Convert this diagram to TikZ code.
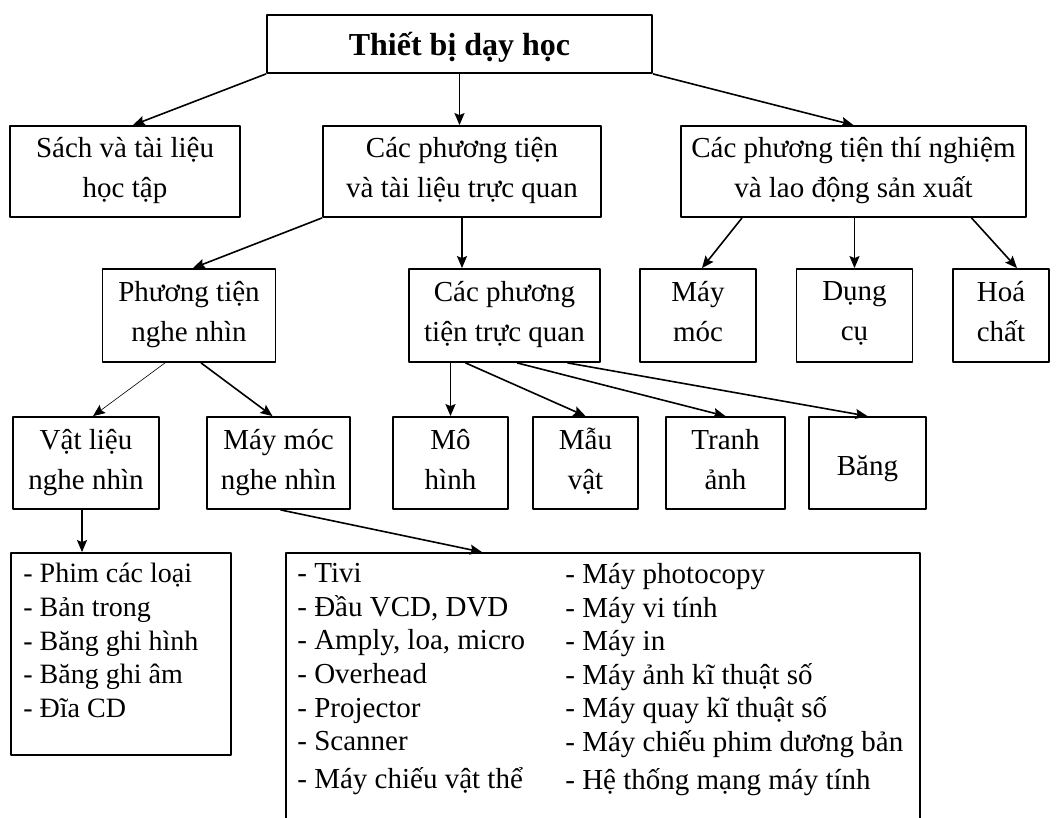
\documentclass[tikz,border=0pt]{standalone}
\usepackage{fontspec}
\setmainfont{Liberation Serif}
\usetikzlibrary{arrows.meta}
\tikzset{
	hop/.style={draw, line width=0.9pt, align=center, inner sep=2pt,
		font=\fontsize{14.5}{20}\selectfont,
		execute at begin node=\rule{0pt}{16pt},
		execute at end node=\rule[-4pt]{0pt}{4pt}},
	ds/.style={align=left, inner sep=0pt, anchor=north west,
		font=\fontsize{14}{16.8}\selectfont, execute at begin node=\strut},
	mui/.style={-{Stealth[length=6pt,width=5pt,inset=1pt]}, line width=0.8pt}
}
\begin{document}
\begin{tikzpicture}[x=0.5pt, y=-0.5pt, line join=round]
			\useasboundingbox (0,0) rectangle (1056,818);
			% hang 1
			\node[hop, minimum width=192.5pt, minimum height=29pt, font=\fontsize{16}{20}\selectfont\bfseries] (goc) at (459.5,44) {Thiết bị dạy học};
			% hang 2
			\node[hop, minimum width=115pt, minimum height=45.5pt] (sach) at (125,171.5) {Sách và tài liệu\\học tập};
			\node[hop, minimum width=139pt, minimum height=45.5pt] (tq) at (462,171.5) {Các phương tiện\\và tài liệu trực quan};
			\node[hop, minimum width=172.5pt, minimum height=45.5pt] (tn) at (853.5,171.5) {Các phương tiện thí nghiệm\\và lao động sản xuất};
			% hang 3
			\node[hop, minimum width=86.5pt, minimum height=46.5pt] (ptnn) at (189,315.5) {Phương tiện\\nghe nhìn};
			\node[hop, minimum width=95.5pt, minimum height=46.5pt] (pttq) at (504.5,315.5) {Các phương\\tiện trực quan};
			\node[hop, minimum width=58pt, minimum height=46.5pt] (may) at (698,315.5) {Máy\\móc};
			\node[hop, minimum width=58pt, minimum height=46.5pt] (dc) at (854.5,315.5) {Dụng\\cụ};
			\node[hop, minimum width=48pt, minimum height=46.5pt] (hc) at (1001,315.5) {Hoá\\chất};
			% hang 4
			\node[hop, minimum width=73pt, minimum height=46pt] (vlnn) at (86,463) {Vật liệu\\nghe nhìn};
			\node[hop, minimum width=71.5pt, minimum height=46pt] (mmnn) at (278.5,463) {Máy móc\\nghe nhìn};
			\node[hop, minimum width=57.5pt, minimum height=46pt] (mh) at (450.5,463) {Mô\\hình};
			\node[hop, minimum width=52.5pt, minimum height=46pt] (mv) at (585.5,463) {Mẫu\\vật};
			\node[hop, minimum width=59.5pt, minimum height=46pt] (ta) at (725.5,463) {Tranh\\ảnh};
			\node[hop, minimum width=58.5pt, minimum height=46pt] (bg) at (867.5,463) {Băng};
			% danh sach
			\node[hop, minimum width=110pt, minimum height=101pt] (ds1) at (121,654) {};
			\node[ds] (ds1t) at (23,563) {- Phim các loại\\- Bản trong\\- Băng ghi hình\\- Băng ghi âm\\- Đĩa CD};
			\node[hop, minimum width=317pt, minimum height=167pt] (ds2) at (603,720) {};
			\node[ds, font=\fontsize{14.5}{16.8}\selectfont] (ds2a) at (297,563) {- Tivi\\- Đầu VCD, DVD\\- Amply, loa, micro\\- Overhead\\- Projector\\- Scanner\\[2pt]- Máy chiếu vật thể};
			\node[ds, font=\fontsize{14.5}{16.8}\selectfont] (ds2b) at (565,563) {- Máy photocopy\\- Máy vi tính\\- Máy in\\- Máy ảnh kĩ thuật số\\- Máy quay kĩ thuật số\\- Máy chiếu phim dương bản\\[2pt]- Hệ thống mạng máy tính};
			% mui ten
			\draw[mui] (goc.south west) -- ([xshift=4pt]sach.north);
			\draw[mui] (goc.south) -- (goc.south |- tq.north);
			\draw[mui] (goc.south east) -- (tn.north);
			\draw[mui] (tq.south west) -- ([xshift=2pt]ptnn.north);
			\draw[mui] (tq.south) -- (tq.south |- pttq.north);
			\draw[mui] ([xshift=-55.75pt]tn.south) -- ([xshift=2pt]may.north);
			\draw[mui] (dc.north |- tn.south) -- (dc.north);
			\draw[mui] ([xshift=59pt]tn.south) -- ([xshift=8pt]hc.north);
			\draw[mui, line width=0.3pt] ([xshift=-12pt]ptnn.south) -- ([xshift=3.5pt]vlnn.north);
			\draw[mui] ([xshift=6pt]ptnn.south) -- ([xshift=-3pt]mmnn.north);
			\draw[mui] (mh.north |- pttq.south) -- (mh.north);
			\draw[mui] ([xshift=-19.5pt]pttq.south) -- (mv.north);
			\draw[mui] ([xshift=6.25pt]pttq.south) -- (ta.north);
			\draw[mui] ([xshift=31.5pt]pttq.south) -- (bg.north);
			\draw[mui] ([xshift=-2pt]vlnn.south) -- ([xshift=-2pt]vlnn.south |- ds1.north);
			\draw[mui] ([xshift=1pt]mmnn.south) -- ([xshift=-60.5pt]ds2.north);
	\end{tikzpicture}
\end{document}
